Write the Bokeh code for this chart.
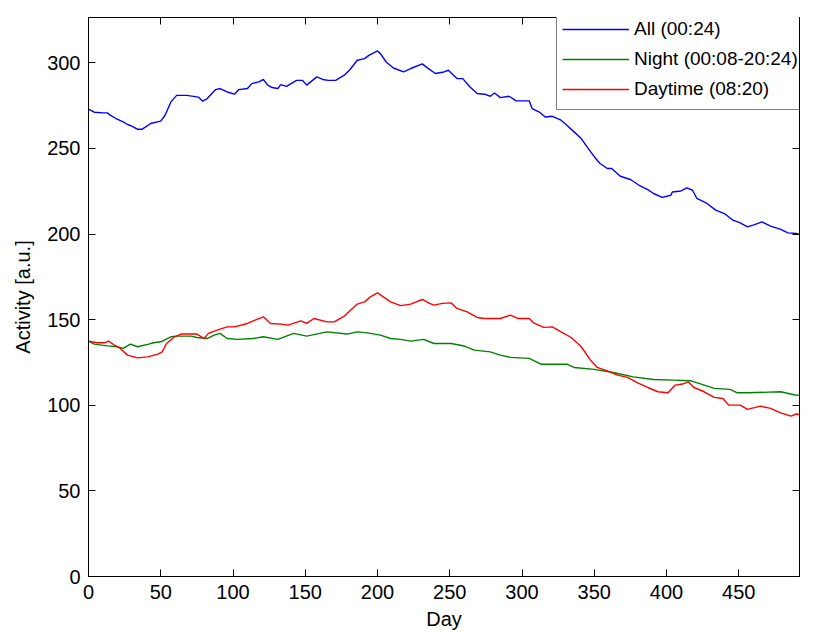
from bokeh.plotting import figure
from bokeh.models import (Range1d, LinearAxis, FixedTicker, Legend, LegendItem,
                          CustomLabelingPolicy)
from bokeh.embed import file_html
from bokeh.resources import INLINE

# Daily activity, smoothed, in arbitrary units
days_all = [0, 4, 10, 13, 15, 19, 24, 27, 30, 34, 37, 43, 50, 53, 57, 61, 68, 76, 79, 82,
            88, 91, 96, 101, 104, 110, 113, 118, 121, 124, 127, 131, 133, 137, 144, 148, 151,
            158, 162, 166, 171, 177, 181, 186, 191, 194, 200, 202, 206, 211, 218, 223, 231,
            235, 240, 246, 249, 255, 259, 264, 269, 274, 278, 281, 285, 291, 296, 301, 305,
            307, 312, 316, 321, 327, 331, 336, 341, 345, 351, 354, 359, 362, 368, 375, 381,
            387, 391, 397, 403, 404, 410, 414, 418, 421, 428, 434, 440, 446, 451, 456, 460,
            466, 472, 479, 484, 490, 492]
act_all = [273.0, 271.2, 270.8, 270.8, 269.5, 267.5, 265.5, 264.0, 263.0, 261.2, 261.2, 264.6,
           266.0, 269.4, 277.2, 281.0, 281.0, 280.0, 277.6, 279.0, 284.4, 285.0, 283.0, 281.7,
           284.4, 285.0, 287.9, 288.9, 290.3, 287.0, 285.6, 285.0, 287.3, 286.3, 289.8, 289.8,
           287.0, 291.8, 290.3, 289.8, 289.8, 292.8, 296.1, 301.5, 302.5, 304.4, 307.0, 305.4,
           300.5, 297.0, 294.7, 296.7, 299.4, 296.8, 293.8, 294.7, 295.7, 290.8, 290.8, 285.9,
           282.1, 281.7, 280.5, 282.4, 279.7, 280.5, 277.8, 277.8, 277.8, 273.3, 271.3, 268.4,
           268.8, 266.5, 263.6, 259.7, 255.8, 250.9, 244.1, 241.2, 238.3, 238.3, 233.8, 231.9,
           228.5, 226.0, 223.7, 221.4, 222.7, 224.6, 225.2, 227.0, 225.6, 220.8, 217.9, 214.0,
           212.0, 208.1, 206.5, 204.2, 205.2, 207.1, 204.6, 202.7, 200.7, 200.3, 200.0]

days_night = [0, 4, 13, 20, 24, 29, 34, 41, 45, 50, 57, 61, 71, 75, 82, 87, 91, 96, 103, 114,
              121, 131, 142, 151, 165, 179, 186, 193, 202, 209, 216, 223, 232, 239, 251, 260,
              267, 278, 285, 292, 305, 313, 331, 336, 350, 364, 377, 391, 405, 417, 424, 433,
              444, 449, 456, 479, 489, 492]
act_night = [137.5, 135.7, 134.7, 134.2, 133.2, 135.7, 134.2, 135.6, 136.5, 137.1, 140.0, 140.4,
             140.4, 139.6, 139.0, 141.0, 142.0, 139.0, 138.5, 139.0, 140.0, 138.5, 142.0, 140.4,
             142.9, 141.6, 142.9, 142.3, 141.0, 139.0, 138.5, 137.5, 138.5, 136.1, 136.1, 134.6,
             132.2, 131.2, 129.3, 128.0, 127.4, 124.0, 124.0, 122.1, 121.0, 119.0, 116.6, 115.1,
             114.7, 114.3, 112.4, 109.9, 109.3, 107.3, 107.3, 107.9, 106.0, 105.8]

days_day = [0, 6, 11, 14, 18, 22, 27, 34, 41, 48, 51, 54, 59, 64, 75, 80, 83, 89, 96, 101,
            110, 114, 121, 126, 133, 138, 147, 151, 156, 165, 170, 177, 186, 191, 195, 200,
            204, 209, 216, 223, 225, 231, 236, 239, 245, 251, 255, 262, 269, 274, 285, 292,
            297, 305, 308, 315, 321, 327, 334, 341, 347, 352, 359, 366, 373, 380, 387, 394,
            401, 406, 411, 415, 419, 426, 433, 439, 443, 451, 456, 465, 472, 479, 486, 490, 492]
act_day = [137.5, 136.5, 136.5, 137.5, 135.1, 133.2, 129.3, 127.7, 128.3, 129.9, 131.2, 136.1,
           139.6, 141.6, 141.6, 139.0, 142.0, 143.9, 145.8, 145.8, 147.8, 149.3, 151.7, 147.8,
           147.4, 146.8, 149.3, 147.8, 150.7, 148.7, 148.7, 152.1, 159.1, 160.4, 163.3, 165.7,
           163.3, 160.4, 158.2, 159.1, 159.8, 161.8, 159.5, 158.5, 159.5, 159.8, 156.6, 154.6,
           151.3, 150.7, 150.7, 152.7, 150.7, 150.7, 148.2, 145.5, 145.8, 142.9, 139.6, 134.2,
           126.8, 122.1, 120.1, 117.6, 116.3, 113.1, 110.4, 107.9, 107.3, 111.8, 112.4, 113.7,
           110.4, 107.9, 104.6, 104.0, 100.1, 100.1, 97.6, 99.5, 98.2, 95.6, 93.7, 94.9, 94.5]

labels = ["All (00:24)", "Night (00:08-20:24)", "Daytime (08:20)"]
colors = ["#0000ff", "#008000", "#ff0000"]
x_ticks = [0, 50, 100, 150, 200, 250, 300, 350, 400, 450]
y_ticks = [0, 50, 100, 150, 200, 250, 300]

FONT = "Liberation Sans"
FS = "20px"

p = figure(width=815, height=632, output_backend="svg", toolbar_location=None,
           x_range=Range1d(0, 492), y_range=Range1d(0, 326.5),
           min_border_left=88, min_border_right=16, min_border_top=17, min_border_bottom=55)
p.background_fill_color = "white"
p.border_fill_color = "white"
p.grid.visible = False
p.outline_line_color = "black"
p.outline_line_width = 1

r_all = p.line(days_all, act_all, line_color=colors[0], line_width=1.4)
r_night = p.line(days_night, act_night, line_color=colors[1], line_width=1.4)
r_day = p.line(days_day, act_day, line_color=colors[2], line_width=1.4)


def style_axis(ax, ticks, show_labels=True):
    ax.ticker = FixedTicker(ticks=ticks)
    ax.major_tick_in = 7
    ax.major_tick_out = 0
    ax.minor_tick_line_color = None
    ax.major_tick_line_color = "black"
    ax.axis_line_color = "black"
    ax.major_label_text_font = FONT
    ax.major_label_text_color = "black"
    if show_labels:
        ax.major_label_text_font_size = FS
        ax.major_label_standoff = 8
    else:
        # tick marks only: the labeling policy keeps none of the labels
        ax.major_label_policy = CustomLabelingPolicy(code="return []")
        ax.major_label_text_font_size = "1px"
        ax.major_label_standoff = 0


style_axis(p.xaxis[0], x_ticks)
style_axis(p.yaxis[0], y_ticks)
p.xaxis[0].axis_label = "Day"
p.yaxis[0].axis_label = "Activity [a.u.]"
for ax in (p.xaxis[0], p.yaxis[0]):
    ax.axis_label_text_font = FONT
    ax.axis_label_text_font_size = FS
    ax.axis_label_text_font_style = "normal"
    ax.axis_label_text_color = "black"
p.xaxis[0].axis_label_standoff = 6
p.yaxis[0].axis_label_standoff = 10

# mirrored tick marks on the top and right edges (box on)
top_ax = LinearAxis()
right_ax = LinearAxis()
style_axis(top_ax, x_ticks, show_labels=False)
style_axis(right_ax, y_ticks, show_labels=False)
p.add_layout(top_ax, "above")
p.add_layout(right_ax, "right")

# legend box anchored in the upper right corner, running past the axes edge
legend = Legend(items=[LegendItem(label=labels[0], renderers=[r_all]),
                       LegendItem(label=labels[1], renderers=[r_night]),
                       LegendItem(label=labels[2], renderers=[r_day])],
                location=(468, 466))
legend.label_text_font = FONT
legend.label_text_font_size = "19px"
legend.label_text_color = "black"
legend.glyph_width = 67
legend.glyph_height = 30
legend.label_height = 30
legend.label_standoff = 5
legend.spacing = 0
legend.padding = 5
legend.margin = 0
legend.border_line_color = "black"
legend.border_line_width = 1
legend.background_fill_color = "white"
legend.background_fill_alpha = 1.0
p.add_layout(legend, "center")

open("out.html", "w").write(file_html(p, INLINE))
